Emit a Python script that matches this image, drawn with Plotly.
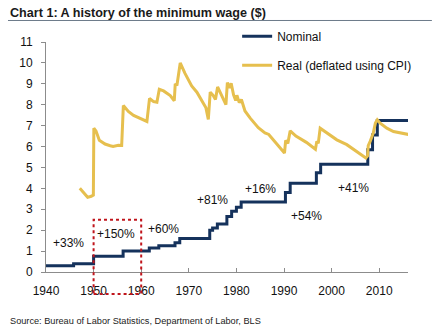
import plotly.graph_objects as go

# Federal minimum wage, nominal dollars (step changes; value holds until next date)
nominal_years = [1940, 1945.8, 1950.0, 1956.2, 1961.7, 1963.7, 1967.1, 1968.1,
                 1974.4, 1975.0, 1976.0, 1978.0, 1979.0, 1980.0, 1981.0,
                 1990.3, 1991.3, 1996.8, 1997.7, 2007.6, 2008.6, 2009.6, 2016.1]
nominal_wage = [0.30, 0.40, 0.75, 1.00, 1.15, 1.25, 1.40, 1.60,
                2.00, 2.10, 2.30, 2.65, 2.90, 3.10, 3.35,
                3.80, 4.25, 4.75, 5.15, 5.85, 6.55, 7.25, 7.25]

# Minimum wage deflated by CPI
real_years = [1947.1, 1948.0, 1948.75, 1949.5, 1949.95, 1950.05, 1950.5, 1951.2,
              1952.4, 1953.5, 1954.1, 1955.2, 1955.9, 1956.25, 1957.3, 1958.4,
              1959.8, 1961.2, 1961.75, 1962.6, 1963.3, 1963.8, 1964.7, 1966.1,
              1966.95, 1967.15, 1967.5, 1967.7, 1968.1, 1968.2, 1969.2, 1970.6,
              1971.7, 1972.8, 1973.6, 1974.1, 1974.5, 1975.1, 1975.6, 1976.05,
              1976.9, 1977.8, 1978.1, 1978.55, 1978.9, 1979.4, 1979.85, 1980.1,
              1980.6, 1981.05, 1981.8, 1982.9, 1984.6, 1986.0, 1986.8, 1988.5,
              1990.1, 1990.35, 1990.8, 1991.3, 1992.5, 1994.7, 1996.6, 1996.9,
              1997.2, 1997.6, 1999.0, 2001.1, 2003.2, 2005.3, 2007.2, 2007.55,
              2007.7, 2008.1, 2008.5, 2008.75, 2009.2, 2009.6, 2010.2, 2011.6,
              2013.0, 2014.4, 2015.5, 2016.1]
real_wage = [4.00, 3.75, 3.57, 3.62, 3.68, 6.88, 6.75, 6.30,
             6.12, 6.04, 6.00, 6.06, 6.05, 7.96, 7.68, 7.49,
             7.36, 7.20, 8.30, 8.15, 8.12, 8.74, 8.66, 8.44,
             8.19, 9.00, 8.92, 9.20, 9.98, 10.00, 9.50, 8.90,
             8.60, 8.20, 7.85, 7.30, 8.60, 8.45, 8.25, 8.85,
             8.40, 8.00, 9.06, 8.80, 9.03, 8.47, 8.20, 8.45,
             8.10, 8.25, 7.70, 7.36, 6.90, 6.65, 6.58, 6.10,
             5.69, 6.30, 6.15, 6.75, 6.50, 6.20, 5.87, 6.25,
             6.15, 6.88, 6.64, 6.32, 6.09, 5.77, 5.45, 5.55,
             6.05, 6.25, 6.56, 6.64, 7.12, 7.28, 7.12, 6.88,
             6.72, 6.64, 6.60, 6.58]

# Growth labels for each era of increases
label_text = ["+33%", "+150%", "+60%", "+81%", "+16%", "+54%", "+41%"]
label_year = [1944.7, 1954.6, 1964.7, 1975.0, 1985.0, 1994.8, 2004.7]
label_value = [1.41, 1.84, 2.08, 3.43, 3.97, 2.66, 4.02]

# Highlighted decade (1950s)
box_years = [1950, 1960]
box_values = [-1.05, 2.5]

X_RANGE = [1940, 2016.05]
Y_RANGE = [0, 11]

NAVY = "#15325c"
GOLD = "#e6bf4e"
FONT = "Liberation Sans, Arial, sans-serif"

fig = go.Figure()
fig.add_trace(go.Scatter(
    x=nominal_years, y=nominal_wage, name="Nominal", mode="lines",
    line=dict(color=NAVY, width=3, shape="hv"), legendgroup="a"))
fig.add_trace(go.Scatter(
    x=real_years, y=real_wage, name="Real (deflated using CPI)", mode="lines",
    line=dict(color=GOLD, width=3), legendgroup="b"))

for t, xv, yv in zip(label_text, label_year, label_value):
    fig.add_annotation(x=xv, y=yv, text=t, showarrow=False,
                       font=dict(family=FONT, size=12, color="#111111"))

# dotted box around the 1950s (domain refs so it is not clipped by the plot area)
def xfrac(v):
    return (v - X_RANGE[0]) / (X_RANGE[1] - X_RANGE[0])

def yfrac(v):
    return (v - Y_RANGE[0]) / (Y_RANGE[1] - Y_RANGE[0])

fig.add_shape(type="rect", xref="x domain", yref="y domain",
              x0=xfrac(box_years[0]), x1=xfrac(box_years[1]),
              y0=yfrac(box_values[0]), y1=yfrac(box_values[1]),
              line=dict(color="#c0151c", width=2, dash="dot"), layer="above")

# header and rule
fig.add_annotation(xref="paper", yref="paper", x=-0.105, y=1.128,
                   xanchor="left", yanchor="middle", showarrow=False,
                   text="<b>Chart 1: A history of the minimum wage ($)</b>",
                   font=dict(family=FONT, size=12.6, color="#1a1a1a"))
fig.add_shape(type="line", xref="paper", yref="paper",
              x0=-0.105, x1=1.066, y0=1.0935, y1=1.0935,
              line=dict(color="#6d7b8a", width=1))
fig.add_annotation(xref="paper", yref="paper", x=-0.105, y=-0.2117,
                   xanchor="left", yanchor="middle", showarrow=False,
                   text="Source: Bureau of Labor Statistics, Department of Labor, BLS",
                   font=dict(family=FONT, size=9.2, color="#222222"))

fig.update_layout(
    width=436, height=336,
    margin=dict(l=46, r=28, t=42, b=64),
    paper_bgcolor="white", plot_bgcolor="white",
    font=dict(family=FONT, size=12, color="#111111"),
    showlegend=True,
    legend=dict(x=0.528, y=1.088, xanchor="left", yanchor="top",
                bgcolor="rgba(0,0,0,0)", tracegroupgap=10,
                font=dict(family=FONT, size=12, color="#111111")),
)
fig.update_xaxes(range=X_RANGE, showgrid=False, zeroline=False,
                 showline=True, linecolor="#8c8c8c", linewidth=1,
                 ticks="inside", ticklen=4, tickcolor="#8c8c8c",
                 ticklabelstandoff=8,
                 tickvals=[1940, 1950, 1960, 1970, 1980, 1990, 2000, 2010],
                 tickfont=dict(family=FONT, size=12, color="#111111"))
fig.update_yaxes(range=Y_RANGE, showgrid=False, zeroline=False,
                 showline=True, linecolor="#8c8c8c", linewidth=1,
                 ticks="outside", ticklen=4, tickcolor="#8c8c8c",
                 dtick=1, ticklabelstandoff=6,
                 tickfont=dict(family=FONT, size=12, color="#111111"))

fig.write_html("out.html")
